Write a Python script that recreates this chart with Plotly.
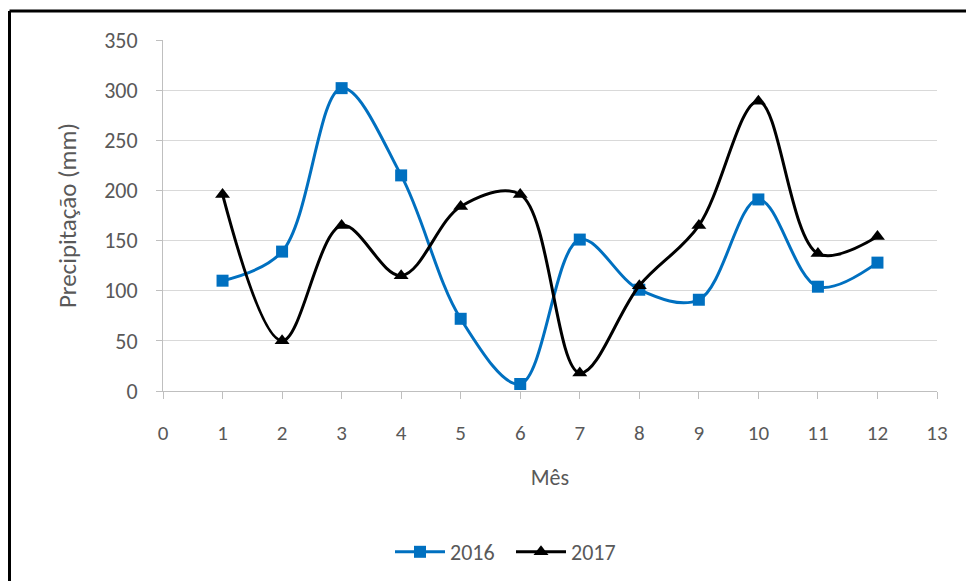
import plotly.graph_objects as go

months = [1, 2, 3, 4, 5, 6, 7, 8, 9, 10, 11, 12]
p2016 = [110, 139, 302, 215, 72, 7, 151, 101, 91, 191, 104, 128]
p2017 = [196, 50, 165, 115, 184, 196, 18, 105, 165, 289, 137, 154]
x_ticks = list(range(0, 14))
y_ticks = [0, 50, 100, 150, 200, 250, 300, 350]

FONT = "Carlito, Calibri, Liberation Sans, sans-serif"
GRAY = "#595959"

L, R, T, B = 155, 45, 32, 198
PW = 974 - L - R
PH = 581 - T - B

fig = go.Figure()
fig.add_trace(go.Scatter(
    x=months, y=p2016, name="2016", mode="lines+markers",
    line=dict(color="#0070C0", width=3, shape="spline", smoothing=1),
    marker=dict(symbol="square", size=12, color="#0070C0"),
))
fig.add_trace(go.Scatter(
    x=months, y=p2017, name="2017", mode="lines+markers",
    line=dict(color="#000000", width=3, shape="spline", smoothing=1),
    marker=dict(symbol="triangle-up", size=13, color="#000000"),
))

fig.update_layout(
    width=974, height=581,
    margin=dict(l=L, r=R, t=T, b=B),
    paper_bgcolor="white", plot_bgcolor="white",
    font=dict(family=FONT, color=GRAY, size=18),
    showlegend=True,
    legend=dict(orientation="h", x=(390 - 8 - L) / PW, xanchor="left",
                y=(391 - 552) / PH, yanchor="middle",
                font=dict(size=22, color=GRAY),
                itemwidth=50, entrywidth=56),
    shapes=[
        dict(type="line", xref="paper", yref="paper",
             x0=(1.5 - L) / PW, x1=1.2, y0=(T + PH - 3) / PH, y1=(T + PH - 3) / PH,
             line=dict(color="black", width=3)),
        dict(type="line", xref="paper", yref="paper",
             x0=(1.5 - L) / PW, x1=(1.5 - L) / PW, y0=(T + PH - 3) / PH, y1=-0.8,
             line=dict(color="black", width=3)),
    ],
)
fig.update_xaxes(
    range=[0, 13], tickvals=x_ticks, ticktext=[str(v) for v in x_ticks],
    showgrid=False, showline=True, linecolor="#bfbfbf", linewidth=1,
    ticks="outside", ticklen=7, tickcolor="#bfbfbf", ticklabelstandoff=16,
    tickfont=dict(size=21, color=GRAY), zeroline=False,
    title=dict(text="Mês", font=dict(size=22, color=GRAY), standoff=24),
)
fig.update_yaxes(
    range=[0, 350], tickvals=y_ticks, ticktext=[str(v) for v in y_ticks],
    showgrid=True, gridcolor="#d9d9d9", gridwidth=1,
    showline=True, linecolor="#bfbfbf", linewidth=1,
    ticks="outside", ticklen=6, tickcolor="#bfbfbf", ticklabelstandoff=14,
    tickfont=dict(size=22, color=GRAY), zeroline=False,
    title=dict(text="Precipitação (mm)", font=dict(size=25, color=GRAY), standoff=20),
)

fig.write_html("out.html")
